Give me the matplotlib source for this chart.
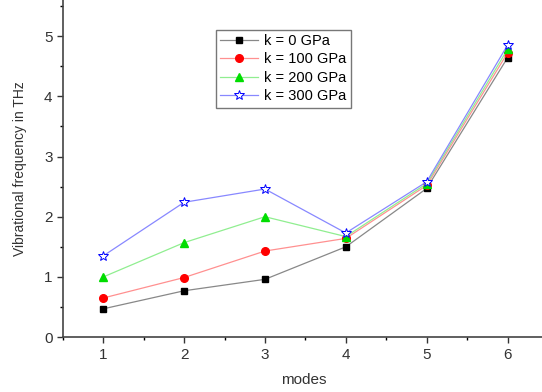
import matplotlib
matplotlib.use("Agg")
from matplotlib import pyplot as plt
from matplotlib.ticker import MultipleLocator

plt.rcParams['font.family'] = ['Liberation Sans', 'DejaVu Sans']

modes = [1, 2, 3, 4, 5, 6]
k0 = [0.47, 0.77, 0.96, 1.50, 2.47, 4.64]
k100 = [0.65, 0.99, 1.43, 1.64, 2.52, 4.72]
k200 = [1.00, 1.57, 2.00, 1.67, 2.55, 4.78]
k300 = [1.35, 2.24, 2.46, 1.73, 2.58, 4.85]
labels = ["k = 0 GPa", "k = 100 GPa", "k = 200 GPa", "k = 300 GPa"]

fig = plt.figure(figsize=(5.42, 3.92), dpi=100)
ax = fig.add_axes([0.116, 0.140, 0.889, 0.860])

ax.plot(modes, k0, color="#888888", lw=0.9, marker="s", ms=4.5, mfc="black", mec="black", label=labels[0])
ax.plot(modes, k100, color="#ff9090", lw=0.9, marker="o", ms=5.5, mfc="red", mec="red", label=labels[1])
ax.plot(modes, k200, color="#90ee90", lw=0.9, marker="^", ms=5.5, mfc="#00dd00", mec="#00dd00", label=labels[2])
ax.plot(modes, k300, color="#8888ff", lw=0.9, marker="*", ms=7, mfc="white", mec="blue", mew=0.7, label=labels[3])

ax.set_xlim(0.5, 6.46)
ax.set_ylim(0, 5.6)
ax.xaxis.set_major_locator(MultipleLocator(1))
ax.xaxis.set_minor_locator(MultipleLocator(0.5))
ax.yaxis.set_major_locator(MultipleLocator(1))
ax.yaxis.set_minor_locator(MultipleLocator(0.5))
ax.tick_params(which="major", direction="out", length=4, width=1, labelsize=11, colors="#333333")
ax.tick_params(which="minor", direction="out", length=2, width=1)
ax.spines["top"].set_visible(False)
ax.spines["right"].set_visible(False)
for s in ["left", "bottom"]:
    ax.spines[s].set_color("#444444")
    ax.spines[s].set_linewidth(1.2)

ax.set_xlabel("modes", fontsize=11, color="#333333", labelpad=8)
ax.set_ylabel("Vibrational frequency in THz", fontsize=10, color="#333333", labelpad=12)

leg = ax.legend(loc="upper left", bbox_to_anchor=(0.318, 0.912), fontsize=10.5, frameon=True,
                fancybox=False, edgecolor="#555555", handlelength=2.6, borderpad=0.3,
                labelspacing=0.3, handletextpad=0.4, borderaxespad=0)
leg.get_frame().set_linewidth(1.0)

fig.savefig("out.png", dpi=100)
